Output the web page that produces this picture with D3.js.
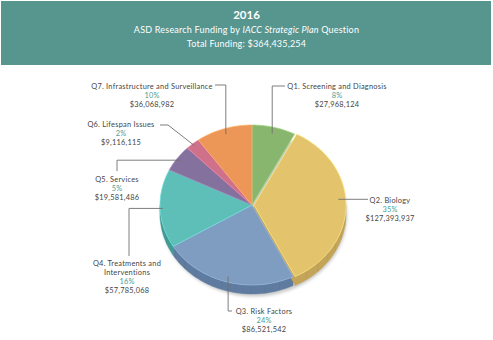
<!DOCTYPE html>
<html>
<head>
<meta charset="utf-8">
<script src="https://cdn.jsdelivr.net/npm/d3@7/dist/d3.min.js"></script>
<style>
  html, body { margin: 0; padding: 0; background: #fff; }
  svg { display: block; }
  text { font-family: Lato, "Open Sans", sans-serif; }
</style>
</head>
<body>
<svg id="chart" width="493" height="340"></svg>
<script>
// ---- data ----
const year = "2016";
const categories = [
  ["Q1. Screening and Diagnosis"],
  ["Q2. Biology"],
  ["Q3. Risk Factors"],
  ["Q4. Treatments and", "Interventions"],
  ["Q5. Services"],
  ["Q6. Lifespan Issues"],
  ["Q7. Infrastructure and Surveillance"]
];
const funding = [27968124, 127393937, 86521542, 57785068, 19581486, 9116115, 36068982];
const percentLabels = ["8%", "35%", "24%", "16%", "5%", "2%", "10%"];

// ---- styling ----
const topColors  = ["#88b66e", "#e3c46d", "#7f9cc1", "#5ebfb8", "#85719d", "#d0718c", "#ec9657"];
const sideColors = ["#6e9a57", "#c3a458", "#5f7ca0", "#409b95", "#6a5882", "#a95670", "#c97a42"];

// label placement: centre x, first-line y, leader (radial fraction, angle shift, bend points)
const labelLayout = [
  { x: 337, y: 86,  f: 0.92, shift: 0,    pts: [[null, 86], [285, 86]] },
  { x: 390, y: 200, f: 0.92, shift: -5,   pts: [[368, null]] },
  { x: 264, y: 311, f: 0.93, shift: 0,    pts: [[null, 311], [232, 311]] },
  { x: 127, y: 263, f: 0.97, shift: 0,    pts: [[129, null], [129, 256]] },
  { x: 117, y: 179, f: 0.96, shift: 0,    pts: [[117, null], [117, 171]] },
  { x: 121, y: 124, f: 0.97, shift: 0,    pts: [[168, 125], [160, 125]] },
  { x: 152, y: 86,  f: 0.93, shift: 0,    pts: [[null, 85], [215, 85]] }
];
const explode = [0, 2, 0, 0, 0, 0, 0];

const svg = d3.select("#chart");
const W = 493, H = 340;

// ---- header band ----
svg.append("rect").attr("x", 1).attr("y", 1).attr("width", 490).attr("height", 64)
  .attr("fill", "#57958f");
const total = d3.sum(funding);
const fmt = d3.format("$,");
svg.append("text").attr("x", W / 2).attr("y", 19).attr("text-anchor", "middle")
  .attr("fill", "#fff").attr("font-size", 11.5).attr("font-weight", 700).text(year);
const t2 = svg.append("text").attr("x", W / 2).attr("y", 32.5).attr("text-anchor", "middle")
  .attr("fill", "#fff").attr("font-size", 9).attr("letter-spacing", 0.2);
t2.append("tspan").text("ASD Research Funding by ");
t2.append("tspan").attr("font-style", "italic").text("IACC Strategic Plan");
t2.append("tspan").text(" Question");
svg.append("text").attr("x", W / 2).attr("y", 46.5).attr("text-anchor", "middle")
  .attr("fill", "#fff").attr("font-size", 9).attr("letter-spacing", 0.2)
  .text("Total Funding: " + fmt(total));

// ---- tilted 3D pie ----
const cx = 252, cy = 205, rx = 92, ry = 80, depth = 9;
const pie = d3.pie().sort(null).value(d => d);
const arcs = pie(funding);

function pt(a, r, dz, off) {
  return [cx + off[0] + rx * r * Math.sin(a), cy + off[1] - ry * r * Math.cos(a) + (dz || 0)];
}
function arcPts(a0, a1, dz, off) {
  const n = Math.max(2, Math.ceil((a1 - a0) / 0.02));
  return d3.range(n + 1).map(i => pt(a0 + (a1 - a0) * i / n, 1, dz, off));
}
function offsetOf(i) {
  const m = (arcs[i].startAngle + arcs[i].endAngle) / 2;
  return [explode[i] * Math.sin(m), -explode[i] * Math.cos(m) * ry / rx];
}

const defs = svg.append("defs");
defs.append("filter").attr("id", "soft").append("feGaussianBlur").attr("stdDeviation", 1.4);

// drop shadow under the disc
svg.append("ellipse").attr("cx", cx + 2).attr("cy", cy + depth + 1.5)
  .attr("rx", rx + 1).attr("ry", ry + 1)
  .attr("fill", "#8a8a8a").attr("opacity", 0.45).attr("filter", "url(#soft)");

const line = d3.line();

// outer walls (front half only)
const walls = svg.append("g");
arcs.forEach((d, i) => {
  const a0 = Math.max(d.startAngle, Math.PI / 2);
  const a1 = Math.min(d.endAngle, 3 * Math.PI / 2);
  if (a1 <= a0) return;
  const off = offsetOf(i);
  const topPts = arcPts(a0, a1, 0, off);
  const botPts = arcPts(a0, a1, depth, off).reverse();
  walls.append("path").attr("d", line(topPts.concat(botPts)) + "Z")
    .attr("fill", sideColors[i]).attr("stroke", sideColors[i]).attr("stroke-width", 0.4);
  // faint facet seams on the wall
  const step = 0.16;
  for (let a = a0 + step; a < a1 - 0.02; a += step) {
    const p = pt(a, 1, 0, off), q = pt(a, 1, depth, off);
    walls.append("line").attr("x1", p[0]).attr("y1", p[1]).attr("x2", q[0]).attr("y2", q[1])
      .attr("stroke", d3.color(sideColors[i]).darker(0.35)).attr("stroke-width", 0.5).attr("opacity", 0.6);
  }
});

// radial face of the exploded slice where it shows at the front
arcs.forEach((d, i) => {
  if (!explode[i]) return;
  const off = offsetOf(i);
  const a = d.endAngle;
  const c = [cx + off[0], cy + off[1]];
  const p = pt(a, 1, 0, off);
  walls.append("path")
    .attr("d", line([c, p, [p[0], p[1] + depth], [c[0], c[1] + depth]]) + "Z")
    .attr("fill", sideColors[i]);
});

// top faces
const tops = svg.append("g");
arcs.forEach((d, i) => {
  const off = offsetOf(i);
  const pts = [[cx + off[0], cy + off[1]]].concat(arcPts(d.startAngle, d.endAngle, 0, off));
  tops.append("path").attr("d", line(pts) + "Z")
    .attr("fill", topColors[i])
    .attr("stroke", d3.color(topColors[i]).brighter(0.5)).attr("stroke-width", 0.7)
    .attr("stroke-linejoin", "round");
});

// ---- leaders and labels ----
const labels = svg.append("g");
arcs.forEach((d, i) => {
  const L = labelLayout[i];
  const mid = (d.startAngle + d.endAngle) / 2 + L.shift * Math.PI / 180;
  const off = offsetOf(i);
  const anchor = pt(mid, L.f, 0, off);
  const pts = [anchor];
  L.pts.forEach(p => pts.push([p[0] == null ? anchor[0] : p[0], p[1] == null ? anchor[1] : p[1]]));
  labels.append("path").attr("d", line(pts)).attr("fill", "none")
    .attr("stroke", "#6f6f6f").attr("stroke-width", 0.9);

  const lines = categories[i];
  const g = labels.append("g").attr("text-anchor", "middle").attr("font-size", 7.4)
    .attr("letter-spacing", 0.25);
  lines.forEach((s, k) => {
    g.append("text").attr("x", L.x).attr("y", L.y + 9 * k).attr("dy", "0.35em")
      .attr("fill", "#454545").text(s);
  });
  const n = lines.length;
  g.append("text").attr("x", L.x).attr("y", L.y + 9 * n).attr("dy", "0.35em")
    .attr("fill", "#4a9e97").text(percentLabels[i]);
  g.append("text").attr("x", L.x).attr("y", L.y + 9 * (n + 1)).attr("dy", "0.35em")
    .attr("fill", "#454545").text(fmt(funding[i]));
});
</script>
</body>
</html>
